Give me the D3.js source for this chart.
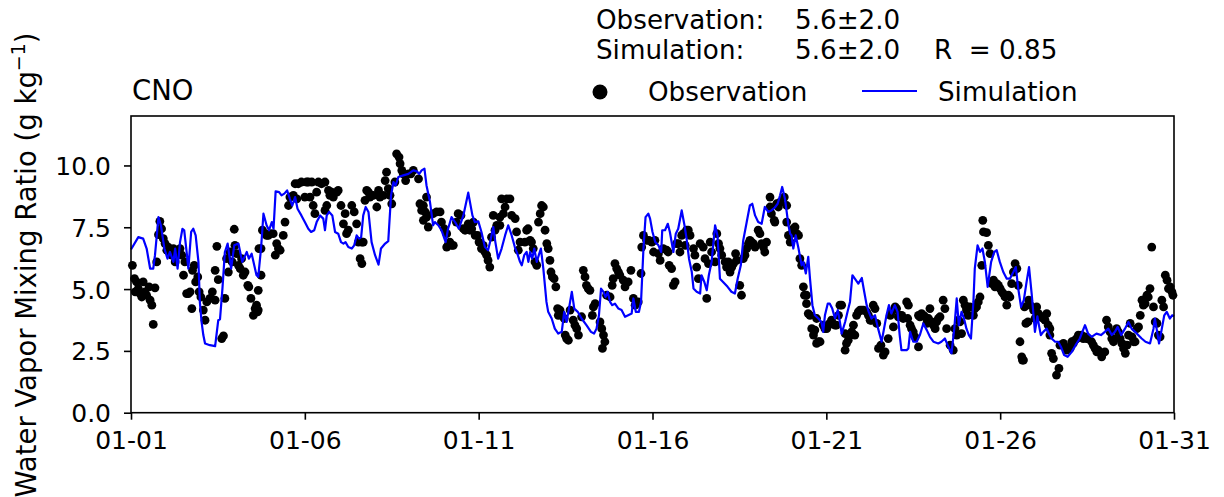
<!DOCTYPE html>
<html>
<head>
<meta charset="utf-8">
<script src="https://cdn.jsdelivr.net/npm/d3@7"></script>
<style>
  html, body { margin: 0; padding: 0; background: #fff; }
  svg text { font-family: "DejaVu Sans", sans-serif; fill: #000; }
</style>
</head>
<body>
<svg id="chart" width="1224" height="497"></svg>
<script>
// Station and summary statistics
const stationName = "CNO";
const obsStat = "5.6±2.0";
const simStat = "5.6±2.0";
const corrText = "R  = 0.85";

// Axis ticks (days since 01-01 00:00)
const xTickDays = [0, 5, 10, 15, 20, 25, 30];
const xTickLabels = ["01-01", "01-06", "01-11", "01-16", "01-21", "01-26", "01-31"];
const yTicks = [0, 2.5, 5, 7.5, 10];

// Simulated water vapor mixing ratio (g/kg)
const simDay = [
  0,0.21,0.35,0.45,0.55,0.64,0.69,0.79,0.86,0.96,1.05,1.12,1.22,1.27,1.34,1.41,1.48,1.53,1.6,1.65,1.73,1.79,1.86,1.94,1.98,2.03,2.08,2.13,2.27,2.42,2.51,2.56,2.63,2.7,2.78,2.88,2.97,3.09,3.2,3.33,3.39,3.47,3.61,
  3.66,3.74,3.81,3.9,3.97,4.05,4.1,4.16,4.26,4.33,4.41,4.49,4.57,4.64,4.72,4.79,4.9,5.0,5.1,5.18,5.27,5.34,5.44,5.53,5.58,5.63,5.7,5.79,5.87,5.96,6.04,6.11,6.17,6.25,6.35,6.42,6.49,6.56,6.62,6.68,6.75,6.83,6.92,7.02,7.12,7.19,7.31,7.4,
  7.48,7.55,7.61,7.69,7.83,7.98,8.12,8.22,8.29,8.36,8.44,8.5,8.6,8.69,8.74,8.84,8.93,9.05,9.12,9.22,9.32,9.43,9.56,9.7,9.82,9.89,9.99,10.08,10.18,10.27,10.35,10.42,10.48,10.56,10.66,10.76,10.85,10.95,11.04,
  11.12,11.19,11.24,11.31,11.38,11.43,11.48,11.54,11.6,11.67,11.73,11.79,11.86,11.95,12.0,12.1,12.19,12.29,12.39,12.46,12.53,12.63,12.68,12.75,12.85,12.96,13.1,13.23,13.32,13.39,13.46,13.52,13.59,13.65,13.71,13.78,13.84,13.92,14.02,14.11,14.21,14.3,14.4,14.45,14.52,14.61,14.67,14.74,14.8,14.88,
  14.93,15.0,15.08,15.17,15.25,15.28,15.36,15.44,15.5,15.6,15.67,15.74,15.84,15.92,15.98,16.05,16.13,16.18,16.27,16.37,16.41,16.49,16.56,16.62,16.7,16.8,16.87,16.94,17.03,17.16,17.27,17.37,17.45,17.54,17.61,17.71,17.8,17.87,17.95,18.04,18.14,18.23,18.33,18.42,18.52,18.6,
  18.67,18.73,18.81,18.86,18.91,18.96,19.0,19.05,19.12,19.2,19.29,19.34,19.41,19.48,19.53,19.6,19.67,19.77,19.86,19.91,19.96,20.04,20.1,20.17,20.25,20.33,20.39,20.44,20.54,20.61,20.68,20.75,20.82,20.92,21.02,21.09,21.16,21.22,21.3,21.4,21.49,21.59,21.66,21.73,21.8,21.87,21.97,22.05,22.11,22.16,22.31,
  22.36,22.41,22.5,22.6,22.69,22.79,22.89,22.98,23.08,23.22,23.31,23.41,23.49,23.6,23.68,23.75,23.81,23.89,23.96,24.03,24.1,24.16,24.23,24.27,24.35,24.42,24.49,24.56,24.64,24.74,24.83,24.9,24.99,25.09,25.19,25.28,25.38,25.45,25.52,25.6,25.68,25.76,25.83,25.91,26.0,26.07,
  26.12,26.17,26.24,26.34,26.4,26.48,26.58,26.67,26.75,26.84,26.94,27.06,27.17,27.29,27.44,27.53,27.63,27.77,27.9,28.01,28.11,28.21,28.3,28.38,28.48,28.59,28.69,28.78,28.88,28.97,29.07,29.18,29.31,29.41,29.45,29.5,29.57,29.65,29.72,29.79,29.88,29.95,30.0
];
const simValue = [
  6.6,7.1,7.04,6.64,5.83,5.83,6.37,7.91,7.58,6.64,6.23,6.5,6.1,6.64,5.83,6.9,7.44,7.38,6.5,5.83,7.31,7.44,7.17,6.1,4.48,3.67,3.14,2.8,2.73,2.69,3.74,3.78,5.02,6.5,6.84,5.83,6.77,6.84,6.1,6.5,6.23,6.43,5.56,
  5.5,6.64,8.05,7.58,7.38,7.71,7.44,8.95,8.92,8.79,8.86,8.99,8.65,8.38,8.72,8.25,7.98,7.71,7.44,7.31,7.38,7.71,7.98,7.85,7.38,7.98,8.12,7.98,7.31,7.24,6.9,6.84,6.9,6.7,6.64,6.77,7.17,7.04,7.1,7.98,8.32,8.12,6.9,6.37,5.99,6.64,6.84,6.94,
  8.79,9.33,9.19,9.53,9.6,9.66,9.8,9.76,9.66,9.8,9.87,9.19,8.52,7.58,7.71,7.58,7.38,6.9,7.44,7.91,7.71,7.44,7.98,8.9,7.98,7.71,7.74,7.31,6.7,6.57,7.04,7.51,6.9,6.23,6.64,7.17,7.58,7.17,6.7,
  6.4,6.1,5.96,6.37,6.5,6.1,6.5,6.23,6.64,6.1,6.37,6.64,5.83,4.48,4.08,3.81,3.4,3.2,3.27,4.08,3.67,4.48,4.89,4.21,4.08,3.81,3.54,3.27,3.2,3.4,3.94,5.02,4.89,4.68,4.89,4.48,4.35,4.41,4.21,4.15,3.88,3.94,4.01,4.62,4.08,4.08,4.48,6.64,7.91,8.05,
  7.85,7.31,6.9,6.77,6.5,7.38,7.38,7.64,7.31,6.5,7.24,7.44,8.18,7.58,7.04,6.23,5.69,5.02,4.89,4.82,5.56,5.29,4.95,5.56,6.1,7.58,7.17,5.42,5.29,5.09,4.89,4.82,5.42,5.96,6.97,7.71,8.38,8.45,7.98,7.71,7.64,8.32,8.12,8.18,8.3,8.45,
  8.79,9.13,8.65,8.12,7.58,7.24,7.17,6.64,7.17,6.64,5.96,6.1,5.63,6.3,5.42,4.35,3.94,3.81,3.67,3.27,3.94,4.41,4.41,4.21,3.81,4.15,3.67,3.2,3.67,4.08,4.48,5.56,5.42,5.22,5.45,4.89,4.35,4.08,3.81,3.94,3.4,2.87,3.4,3.94,4.35,4.01,4.35,4.08,3.14,2.53,2.53,
  2.6,3.27,2.87,2.87,3.14,3.61,3.34,3.07,2.87,2.8,2.87,3.0,2.73,2.4,3.4,4.62,3.54,4.08,3.81,3.4,3.14,3.0,4.48,5.83,6.77,6.5,6.64,6.1,5.09,6.1,6.5,6.57,6.1,5.69,5.42,5.42,5.69,5.89,5.02,4.28,4.55,5.29,5.89,4.75,3.27,3.9,
  3.5,3.14,3.27,3.4,3.2,3.0,2.87,2.87,2.66,2.33,2.26,2.46,2.73,3.0,3.54,3.2,3.07,3.2,3.14,3.27,3.4,3.14,3.27,3.47,3.14,3.4,3.67,3.4,3.27,3.14,3.0,2.87,2.8,3.4,3.81,3.4,2.8,3.4,3.94,4.08,3.81,3.94,3.9
];

// Observed water vapor mixing ratio (g/kg)
const obsDay = [
  0.04,0.1,0.16,0.21,0.12,0.26,0.31,0.35,0.4,0.45,0.52,0.55,0.6,0.64,0.69,0.74,0.79,0.83,0.88,0.93,0.98,1.03,1.07,1.12,1.17,1.22,1.27,1.31,1.36,1.41,1.46,1.51,1.55,1.6,1.65,1.7,1.75,1.77,1.82,1.86,1.92,1.96,2.01,2.08,2.13,2.18,2.27,2.34,2.42,2.42,2.47,2.51,2.61,2.66,2.7,2.75,2.8,2.85,2.91,2.97,2.99,3.04,3.09,3.14,3.18,3.23,3.28,3.36,3.39,3.45,3.52,3.57,3.61,3.66,3.68,
  3.64,3.66,3.74,3.74,3.78,3.86,3.9,3.95,4.0,4.09,4.15,4.19,4.24,4.29,4.38,4.43,4.53,4.57,4.67,4.72,4.77,4.81,4.9,5.0,5.05,5.1,5.15,5.2,5.24,5.29,5.34,5.39,5.48,5.58,5.58,5.63,5.68,5.72,5.77,5.82,5.92,5.96,6.04,6.11,6.16,6.2,6.25,6.35,6.42,6.49,6.54,6.59,6.64,6.64,6.68,6.73,6.78,6.83,6.87,6.92,6.97,7.07,7.12,7.16,7.26,7.31,7.35,7.4,
  7.45,7.5,7.59,7.64,7.71,7.74,7.79,7.83,7.9,7.98,8.05,8.12,8.27,8.31,8.36,8.41,8.46,8.5,8.5,8.55,8.41,8.69,8.79,8.89,8.93,9.01,9.08,9.12,9.17,9.22,9.27,9.08,9.36,9.41,9.49,9.56,9.61,9.7,9.75,9.8,9.85,9.9,9.97,10.01,10.08,10.13,10.18,10.23,10.27,10.32,10.37,10.42,10.47,10.52,10.61,10.66,10.71,10.76,10.81,10.9,10.95,11.05,11.09,10.61,
  11.14,11.19,11.33,11.38,11.42,11.48,11.52,11.57,11.62,11.67,11.72,11.77,11.81,11.86,11.91,11.96,12.0,12.05,12.08,12.12,12.17,12.22,12.27,12.34,12.39,12.29,12.46,12.49,12.53,12.58,12.63,12.72,12.77,12.82,12.87,12.96,13.01,13.06,13.1,13.15,13.2,13.3,13.35,13.27,13.49,13.54,13.59,13.63,13.56,13.68,13.78,13.84,13.87,13.92,13.97,14.02,14.06,14.16,14.21,14.3,14.38,14.45,14.5,14.59,14.67,14.69,14.74,14.83,
  14.9,14.98,15.07,15.03,15.17,15.22,15.31,15.41,15.45,15.48,15.55,15.6,15.65,15.69,15.74,15.79,15.84,15.89,15.94,15.98,16.03,16.08,16.18,16.22,16.27,16.32,16.37,16.46,16.51,16.56,16.61,16.66,16.7,16.8,16.85,16.9,16.94,16.99,17.09,17.13,17.18,17.23,17.28,17.33,17.39,17.42,17.51,17.56,17.61,17.66,17.71,17.76,17.8,17.85,17.9,17.95,18.04,18.09,18.14,18.19,18.23,18.28,18.38,18.38,18.42,18.5,
  18.52,18.57,18.62,18.67,18.79,18.86,18.86,18.91,18.96,19.0,19.05,19.1,19.15,19.2,19.24,19.29,19.34,19.37,19.43,19.43,19.48,19.53,19.58,19.63,19.67,19.72,19.77,19.82,19.72,19.91,19.96,20.01,20.06,20.1,20.15,20.25,20.29,20.35,20.39,20.44,20.54,20.54,20.58,20.63,20.68,20.73,20.78,20.82,20.87,20.92,20.97,21.02,21.07,21.16,21.21,21.26,21.3,21.35,21.4,21.45,21.5,21.57,21.64,21.69,21.78,21.84,21.88,21.93,21.98,22.02,22.07,22.12,22.17,22.21,22.31,
  22.36,22.34,22.41,22.45,22.5,22.55,22.65,22.65,22.69,22.74,22.79,22.84,22.89,22.94,22.98,23.03,23.08,23.13,23.17,23.22,23.27,23.36,23.41,23.46,23.56,23.65,23.7,23.75,23.8,23.84,23.89,23.94,23.99,24.03,24.08,24.13,24.23,24.27,24.32,24.37,24.42,24.47,24.5,24.52,24.61,24.66,24.71,24.76,24.81,24.85,24.9,24.95,25.0,25.05,25.09,25.14,25.19,25.24,25.28,25.33,25.38,25.43,25.48,25.52,25.57,25.62,25.64,25.67,25.7,25.74,25.8,25.82,25.86,25.96,26.0,
  26.05,26.1,26.15,26.19,26.24,26.29,26.34,26.38,26.43,26.43,26.48,26.53,26.62,26.69,26.72,26.82,26.86,26.91,26.96,27.01,27.06,27.1,27.15,27.2,27.25,27.3,27.34,27.39,27.44,27.49,27.53,27.63,27.68,27.73,27.78,27.82,27.92,28.01,28.06,28.11,28.16,28.21,28.26,28.31,28.35,28.4,28.45,28.5,28.55,28.6,28.65,28.69,28.74,28.79,28.84,28.88,28.93,28.98,29.03,29.08,29.12,29.17,29.22,29.26,29.31,29.36,29.41,29.46,29.51,29.55,29.6,29.65,29.7,29.75,29.8,29.84,29.89,29.94,29.97
];
const obsValue = [
  5.96,5.42,5.29,5.02,4.89,4.82,4.68,5.29,4.89,4.75,5.09,4.55,4.35,3.57,5.05,6.1,7.2,7.74,7.44,7.04,6.84,6.57,6.7,6.5,6.37,6.64,6.1,6.37,6.5,6.64,6.37,5.56,6.1,4.82,4.82,4.89,4.21,5.76,5.96,5.29,5.49,4.89,4.68,4.15,3.74,4.48,4.62,4.89,4.55,5.76,6.73,5.38,3.0,3.11,4.62,6.23,5.69,6.5,6.1,7.42,6.77,6.43,5.96,5.83,6.23,5.56,5.69,5.15,5.09,4.62,3.94,4.21,4.35,4.15,6.64,
  4.08,4.95,5.56,6.64,7.38,7.24,7.17,7.17,7.24,7.24,6.37,6.84,6.64,6.57,7.17,7.71,8.38,8.72,8.79,9.26,8.65,9.26,9.33,8.72,9.33,9.33,8.72,9.33,8.38,8.05,8.92,9.33,9.26,9.33,8.18,8.38,8.99,8.79,8.92,8.72,8.92,8.99,8.38,7.64,8.05,7.24,7.38,8.38,8.12,7.64,6.9,6.23,6.03,6.9,6.9,8.59,8.99,8.92,8.72,8.79,8.79,8.32,8.99,8.72,8.79,9.39,9.73,9.06,
  8.79,8.45,9.33,10.47,10.34,10.07,9.8,9.66,9.39,9.66,9.66,9.8,9.46,8.45,8.18,8.38,8.12,8.72,7.91,7.51,7.78,8.05,8.12,8.12,7.71,7.44,6.7,6.77,6.9,6.77,6.77,7.24,7.71,8.05,7.98,7.44,7.38,7.64,7.38,7.44,7.71,7.17,7.17,6.9,6.64,6.77,6.5,6.37,6.16,5.89,7.1,7.98,7.38,7.58,7.91,8.65,8.05,8.32,8.65,8.65,7.98,7.85,7.31,7.58,
  6.57,6.9,6.9,7.38,7.44,6.97,6.9,6.64,6.1,5.96,7.71,8.05,8.38,8.32,7.38,6.84,6.64,6.16,5.69,5.49,5.42,5.09,4.21,4.15,3.94,3.94,3.81,3.14,3.0,2.93,4.15,3.74,3.54,3.4,3.14,3.88,5.76,5.49,5.15,5.02,4.95,4.28,4.41,3.94,3.67,3.4,3.14,2.87,2.6,4.75,4.68,5.15,5.42,6.03,5.83,5.69,5.56,5.36,5.09,5.29,5.76,4.62,4.35,4.48,5.63,6.7,7.17,6.97,
  6.97,6.9,6.97,6.5,6.43,6.16,6.64,6.57,6.5,5.96,5.83,5.15,5.29,6.84,6.84,6.5,7.17,7.24,6.77,7.38,7.38,7.17,6.64,6.37,5.89,5.42,6.84,6.7,6.23,4.62,6.03,6.9,6.5,6.1,7.24,6.84,6.64,6.37,6.1,5.89,6.1,5.69,5.89,6.03,6.43,6.16,5.15,4.75,6.23,6.37,6.64,6.84,6.97,6.9,6.84,6.7,7.38,7.24,6.84,6.7,6.5,6.9,8.72,8.32,8.05,7.78,
  7.71,8.45,8.32,8.52,8.72,8.38,7.71,7.17,6.9,7.24,7.44,7.51,7.24,7.17,6.23,5.96,5.09,4.75,4.75,4.41,4.01,3.94,3.4,3.14,3.34,2.8,2.87,2.87,3.81,3.54,3.4,3.4,3.54,3.61,3.74,3.54,3.54,3.94,4.35,4.35,3.2,2.53,2.8,2.93,3.14,3.27,3.54,3.14,3.94,4.08,4.15,4.15,4.15,4.08,3.94,3.74,3.74,4.35,4.21,3.61,2.6,2.73,2.33,2.46,3.0,3.94,4.08,3.47,4.28,4.21,3.88,3.94,3.94,3.81,4.48,
  4.35,3.81,3.54,3.4,3.27,3.07,2.66,3.94,3.88,4.01,3.94,3.88,3.61,3.81,4.21,3.67,3.54,3.4,3.67,3.81,3.88,4.55,4.21,3.4,2.73,2.53,3.4,3.14,3.74,3.67,3.2,4.55,4.35,4.15,3.94,4.28,3.94,4.21,4.28,4.48,4.68,5.96,7.78,7.31,7.28,6.77,6.43,5.22,5.36,5.09,5.22,5.15,5.02,4.89,4.82,4.68,4.35,4.75,4.68,5.22,5.69,6.03,5.83,5.15,2.87,2.26,2.13,2.13,4.28,3.61,3.67,4.55,4.35,4.15,3.81,
  4.28,4.01,3.88,3.88,3.81,3.74,4.01,3.54,3.4,3.14,2.4,2.19,1.52,1.79,2.73,2.8,2.66,2.53,2.6,2.6,2.87,2.8,2.93,3.0,3.14,3.07,3.14,3.0,3.07,3.0,3.0,2.87,2.73,2.6,2.46,2.53,2.26,2.46,3.74,3.47,3.27,3.0,2.87,3.0,3.4,3.27,3.0,2.8,2.6,2.4,2.73,3.14,3.61,3.07,2.87,2.87,3.4,3.47,3.94,4.55,4.35,4.41,4.75,4.68,5.02,6.7,4.28,3.67,3.61,3.14,3.07,4.55,4.28,5.56,5.36,5.02,5.09,4.89,4.75
];

const svg = d3.select("#chart");
const margin = { left: 131, right: 1174, top: 116, bottom: 412.7 };

const x = d3.scaleLinear().domain([0, 30]).range([margin.left, margin.right]);
const y = d3.scaleLinear().domain([0, 12]).range([margin.bottom, margin.top]);

const tickFont = 25;
const labelFont = 27.5;
const headFont = 26.2;

// Simulation line
const simData = simDay.map((d, i) => ({ day: d, value: simValue[i] }));
const line = d3.line().x(d => x(d.day)).y(d => y(d.value));

// Observation dots
const obsData = obsDay.map((d, i) => ({ day: d, value: obsValue[i] }));
svg.append("g")
  .selectAll("circle")
  .data(obsData)
  .join("circle")
  .attr("cx", d => x(d.day))
  .attr("cy", d => y(d.value))
  .attr("r", 4.4)
  .attr("fill", "#000");

svg.append("path")
  .datum(simData)
  .attr("d", line)
  .attr("fill", "none")
  .attr("stroke", "#0000ff")
  .attr("stroke-width", 2.2)
  .attr("stroke-linejoin", "round");

// Axes
const xAxis = d3.axisBottom(x)
  .tickValues(xTickDays)
  .tickFormat((d, i) => xTickLabels[i])
  .tickSize(7)
  .tickPadding(12);
const gx = svg.append("g")
  .attr("transform", `translate(0,${margin.bottom})`)
  .call(xAxis);

const yAxis = d3.axisLeft(y)
  .tickValues(yTicks)
  .tickFormat(d3.format(".1f"))
  .tickSize(7)
  .tickPadding(13);
const gy = svg.append("g")
  .attr("transform", `translate(${margin.left},0)`)
  .call(yAxis);

[gx, gy].forEach(g => {
  g.select(".domain").remove();
  g.selectAll(".tick line").attr("stroke", "#000").attr("stroke-width", 1.6);
  g.selectAll(".tick text")
    .attr("font-family", "DejaVu Sans")
    .attr("font-size", tickFont)
    .attr("fill", "#000");
});
gy.selectAll(".tick text").attr("dy", "0.36em");

// Frame
svg.append("rect")
  .attr("x", margin.left)
  .attr("y", margin.top)
  .attr("width", margin.right - margin.left)
  .attr("height", margin.bottom - margin.top)
  .attr("fill", "none")
  .attr("stroke", "#000")
  .attr("stroke-width", 1.6);

// Y axis title
const yTitle = svg.append("text")
  .attr("transform", "translate(36,265) rotate(-90)")
  .attr("text-anchor", "middle")
  .attr("font-size", labelFont);
yTitle.append("tspan").text("Water Vapor Mixing Ratio (g kg");
yTitle.append("tspan").attr("font-size", 19).attr("dy", -11).text("−1");
yTitle.append("tspan").attr("dy", 11).text(")");

// Station label
svg.append("text")
  .attr("x", 132).attr("y", 100)
  .attr("font-size", labelFont)
  .text(stationName);

// Summary statistics
svg.append("text").attr("x", 596).attr("y", 29).attr("font-size", headFont).text("Observation:");
svg.append("text").attr("x", 795).attr("y", 29).attr("font-size", headFont).text(obsStat);
svg.append("text").attr("x", 596).attr("y", 59).attr("font-size", headFont).text("Simulation:");
svg.append("text").attr("x", 795).attr("y", 59).attr("font-size", headFont).text(simStat);
svg.append("text").attr("x", 934).attr("y", 59).attr("font-size", headFont)
  .attr("xml:space", "preserve").style("white-space", "pre").text(corrText);

// Legend
const legend = svg.append("g");
legend.append("circle").attr("cx", 600).attr("cy", 92).attr("r", 7.5).attr("fill", "#000");
legend.append("text").attr("x", 648).attr("y", 101).attr("font-size", headFont).text("Observation");
legend.append("line")
  .attr("x1", 862).attr("x2", 917).attr("y1", 91).attr("y2", 91)
  .attr("stroke", "#0000ff").attr("stroke-width", 2.2);
legend.append("text").attr("x", 938).attr("y", 101).attr("font-size", headFont).text("Simulation");
</script>
</body>
</html>
